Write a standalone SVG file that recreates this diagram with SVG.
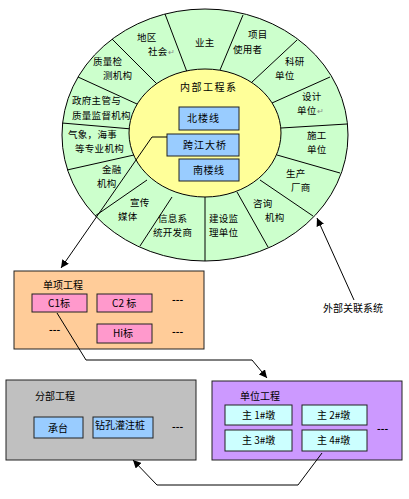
<svg xmlns="http://www.w3.org/2000/svg" width="409" height="499" viewBox="0 0 409 499">
<defs>
<marker id="arr" viewBox="0 0 10 10" refX="10" refY="5" markerWidth="8" markerHeight="8" markerUnits="userSpaceOnUse" orient="auto"><path d="M0,0 L10,5 L0,10 z" fill="#000"/></marker>
<style>
text{font-family:"Noto Sans CJK SC","Liberation Sans",sans-serif;font-size:10px;fill:#000}
.r{font-size:9.5px;letter-spacing:0.3px}
.m{fill:#888;font-size:8px}
.sep{stroke:#000;stroke-width:1;fill:none}
.box{stroke:#222;stroke-width:1}
.blue{fill:#99CCFF}
.pink{fill:#FF99CC}
.cyan{fill:#CCFFFF}
.con{stroke:#000;stroke-width:1;fill:none;marker-end:url(#arr)}
</style>
</defs>
<rect width="409" height="499" fill="#fff"/>

<g id="external-ring">
<ellipse cx="205" cy="135" rx="143" ry="126" fill="#CCFFCC" stroke="#000"/>
<path class="sep" d="M187,72 L165,14 M157,84 L112,39 M137,104 L78,77 M132,129 L62,123 M134,155 L67,170 M147,180 L95,216 M172,197 L140,246 M205,197 L205,261 M237,192 L268,247 M260,180 L313,216 M277,155 L340,173 M281,128 L347,124 M272,103 L330,77 M252,82 L297,40 M220,70 L243,15"/>
<text class="r" x="137" y="41">地区</text>
<text class="r" x="148" y="55">社会<tspan class="m">↵</tspan></text>
<text class="r" x="195" y="46">业主</text>
<text class="r" x="248" y="38">项目</text>
<text class="r" x="233" y="53">使用者</text>
<text class="r" x="285" y="65">科研</text>
<text class="r" x="275" y="79">单位</text>
<text class="r" x="302" y="100">设计</text>
<text class="r" x="297" y="114">单位<tspan class="m">↵</tspan></text>
<text class="r" x="307" y="139">施工</text>
<text class="r" x="307" y="153">单位</text>
<text class="r" x="286" y="177">生产</text>
<text class="r" x="291" y="191">厂商</text>
<text class="r" x="253" y="207">咨询</text>
<text class="r" x="265" y="221">机构</text>
<text class="r" x="209" y="222">建设监</text>
<text class="r" x="209" y="236">理单位</text>
<text class="r" x="158" y="222">信息系</text>
<text class="r" x="153" y="236">统开发商</text>
<text class="r" x="130" y="206">宣传</text>
<text class="r" x="118" y="220">媒体</text>
<text class="r" x="102" y="173">金融</text>
<text class="r" x="97" y="187">机构</text>
<text class="r" x="68" y="138" letter-spacing="1.2">气象，海事</text>
<text class="r" x="75" y="152">等专业机构</text>
<text class="r" x="72" y="104">政府主管与</text>
<text class="r" x="72" y="119">质量监督机构<tspan class="m">↵</tspan></text>
<text class="r" x="93" y="65" letter-spacing="0.8">质量检</text>
<text class="r" x="103" y="79" letter-spacing="0.8">测机构</text>
</g>

<g id="internal-system">
<ellipse cx="205" cy="133" rx="76" ry="64" fill="#FFFF99" stroke="#000"/>
<text x="180" y="91" letter-spacing="1.5">内部工程系</text>
</g>
<g id="north-line">
<rect class="box blue" x="179" y="107" width="60" height="23"/>
<text x="187" y="122" letter-spacing="1">北楼线</text>
</g>
<g id="bridge">
<rect class="box blue" x="167" y="134" width="72" height="22"/>
<text x="183" y="149" letter-spacing="1">跨江大桥</text>
</g>
<g id="south-line">
<rect class="box blue" x="179" y="159" width="60" height="22"/>
<text x="193" y="174" letter-spacing="0.5">南楼线</text>
</g>

<g id="external-label">
<text x="323" y="312">外部关联系统</text>
</g>

<g id="single-project">
<rect class="box" x="14" y="271" width="190" height="78" fill="#FFCC99"/>
<text x="43" y="289">单项工程</text>
<rect class="box pink" x="32" y="294" width="55" height="18"/>
<text x="48" y="307">C1标</text>
<rect class="box pink" x="97" y="294" width="55" height="18"/>
<text x="112" y="307">C2 标</text>
<text x="172" y="303" font-weight="bold">---</text>
<text x="49" y="333" font-weight="bold">---</text>
<rect class="box pink" x="97" y="324" width="55" height="19"/>
<text x="113" y="337">Hi标</text>
<text x="172" y="335" font-weight="bold">---</text>
</g>

<g id="unit-project">
<rect class="box" x="212" y="381" width="190" height="79" fill="#CC99FF"/>
<text x="240" y="400">单位工程</text>
<rect class="box cyan" x="225" y="405" width="67" height="20"/>
<text x="242" y="419">主 1#墩</text>
<rect class="box cyan" x="302" y="405" width="65" height="20"/>
<text x="317" y="419">主 2#墩</text>
<rect class="box cyan" x="225" y="430" width="67" height="21"/>
<text x="242" y="444">主 3#墩</text>
<rect class="box cyan" x="302" y="430" width="65" height="21"/>
<text x="317" y="444">主 4#墩</text>
<text x="377" y="432" font-weight="bold">---</text>
</g>

<g id="sub-project">
<rect class="box" x="6" y="380" width="190" height="80" fill="#C0C0C0"/>
<text x="35" y="400">分部工程</text>
<rect class="box blue" x="34" y="417" width="49" height="21"/>
<text x="48" y="432">承台</text>
<rect class="box blue" x="93" y="417" width="60" height="21"/>
<text x="95" y="429" font-size="9.5">钻孔灌注桩</text>
<text x="172" y="430" font-weight="bold">---</text>
</g>

<g id="connectors">
<path class="con" d="M167,137 H152 L61,268"/>
<path class="con" d="M354,300 L317,218"/>
<path class="con" d="M57,313 L86,360 H252 L267,378"/>
<path class="con" d="M322,453 L298,485 H157 L133,460"/>
</g>
</svg>
